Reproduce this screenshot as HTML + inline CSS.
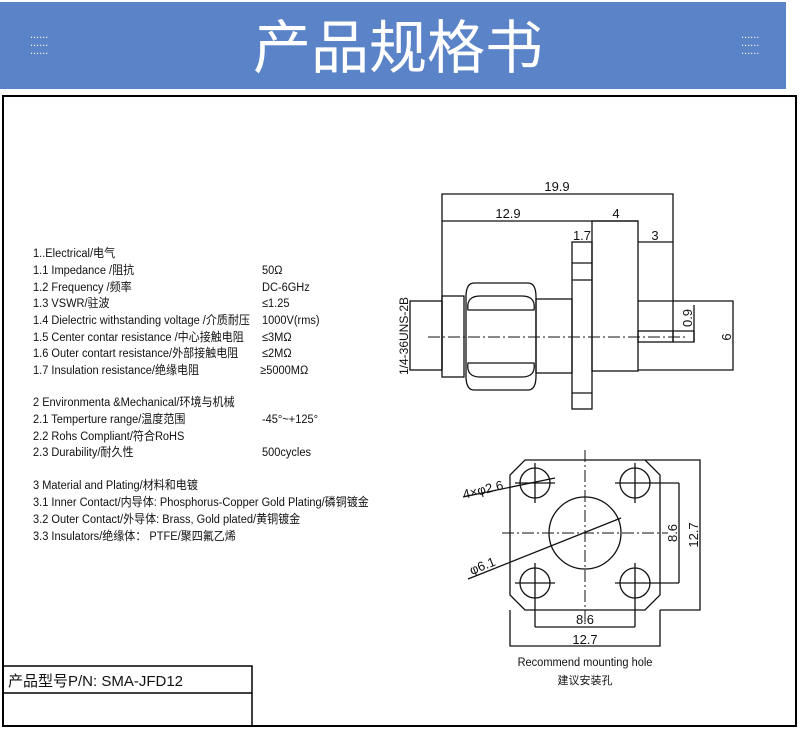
<!DOCTYPE html>
<html><head><meta charset="utf-8"><style>
html,body{margin:0;padding:0;background:#fff;}
svg{display:block;}
.t{font-family:"Liberation Sans","Noto Sans CJK SC",sans-serif;font-size:12px;fill:#111;}
.d{font-family:"Liberation Sans",sans-serif;font-size:13px;fill:#111;}
</style></head><body>
<svg width="800" height="732" viewBox="0 0 800 732" xmlns="http://www.w3.org/2000/svg">
<rect x="0" y="2" width="786" height="87" fill="#5b83c7"/>
<text x="398" y="68" text-anchor="middle" font-family="'Noto Sans CJK SC',sans-serif" font-size="58" fill="#fff">产品规格书</text>
<g fill="#fff" font-size="11" font-family="Liberation Sans">
<text x="30" y="38">......</text>
<text x="30" y="46">......</text>
<text x="30" y="54">......</text>
<text x="741" y="38">......</text>
<text x="741" y="46">......</text>
<text x="741" y="54">......</text>
</g>
<rect x="3" y="96" width="793" height="630" fill="none" stroke="#000" stroke-width="2"/>
<rect x="3" y="666" width="249" height="60" fill="none" stroke="#000" stroke-width="1.5"/>
<line x1="3" y1="693" x2="252" y2="693" stroke="#000" stroke-width="1.5"/>
<text x="8" y="686" font-family="'Liberation Sans','Noto Sans CJK SC',sans-serif" font-size="15" fill="#111">产品型号P/N:  SMA-JFD12</text>

<g class="t" transform="translate(33,0) scale(0.92,1)">
<text y="257">1..Electrical/电气</text>
<text y="274">1.1 Impedance  /阻抗</text>
<text y="291">1.2 Frequency /频率</text>
<text y="307">1.3 VSWR/驻波</text>
<text y="324">1.4 Dielectric withstanding voltage /介质耐压</text>
<text y="341">1.5 Center contar resistance /中心接触电阻</text>
<text y="357">1.6 Outer contart resistance/外部接触电阻</text>
<text y="374">1.7 Insulation  resistance/绝缘电阻</text>
<text y="406">2 Environmenta &amp;Mechanical/环境与机械</text>
<text y="423">2.1 Temperture range/温度范围</text>
<text y="440">2.2 Rohs Compliant/符合RoHS</text>
<text y="456">2.3 Durability/耐久性</text>
<text y="489">3 Material and Plating/材料和电镀</text>
<text y="506">3.1 Inner Contact/内导体:  Phosphorus-Copper Gold Plating/磷铜镀金</text>
<text y="523">3.2 Outer Contact/外导体: Brass, Gold plated/黄铜镀金</text>
<text y="540">3.3 Insulators/绝缘体： PTFE/聚四氟乙烯</text>
</g>
<g class="t" transform="translate(262,0) scale(0.92,1)">
<text y="274">50Ω</text>
<text y="291">DC-6GHz</text>
<text y="307">≤1.25</text>
<text y="324">1000V(rms)</text>
<text y="341">≤3MΩ</text>
<text y="357">≤2MΩ</text>
<text y="374" x="-2">≥5000MΩ</text>
<text y="423">-45°~+125°</text>
<text y="456">500cycles</text>
</g>

<!-- side view -->
<g fill="none" stroke="#111" stroke-width="1.3">
<polyline points="442,370 442,194 673,194 673,342"/>
<polyline points="442,221 638,221"/>
<polyline points="638,242 673,242"/>
<rect x="410" y="301" width="32" height="69"/>
<rect x="442" y="296" width="22" height="81"/>
<path d="M474,283 H528 Q536,283 536,297 V376 Q536,390 528,390 H474 Q466,390 466,376 V297 Q466,283 474,283 Z"/>
<path d="M468,310 Q466,296 480,296 H522 Q536,296 534,310 Z"/>
<path d="M468,363 Q466,377 480,377 H522 Q536,377 534,363 Z"/>
<rect x="536" y="299" width="36" height="74"/>
<rect x="572" y="242" width="20" height="167"/>
<line x1="572" y1="263" x2="592" y2="263"/><line x1="572" y1="280" x2="592" y2="280"/><line x1="572" y1="393" x2="592" y2="393"/>
<rect x="592" y="221" width="46" height="150"/>
<polyline points="638,301 733,301 733,370 638,370"/>
<rect x="638" y="331" width="35" height="11"/>
<polyline points="673,331 694,331 694,342 673,342"/>
<line x1="694" y1="305" x2="694" y2="342"/>
</g>
<line x1="428" y1="337" x2="685" y2="337" stroke="#111" stroke-width="1" stroke-dasharray="12,3,2,3"/>
<g class="d">
<text x="557" y="191" text-anchor="middle">19.9</text>
<text x="508" y="218" text-anchor="middle">12.9</text>
<text x="616" y="218" text-anchor="middle">4</text>
<text x="582" y="240" text-anchor="middle">1.7</text>
<text x="655" y="240" text-anchor="middle">3</text>
<text transform="translate(692,318) rotate(-90)" text-anchor="middle">0.9</text>
<text transform="translate(731,337) rotate(-90)" text-anchor="middle">6</text>
<text transform="translate(408,336) rotate(-90)" text-anchor="middle" font-size="12">1/4-36UNS-2B</text>
</g>

<!-- bottom view -->
<g fill="none" stroke="#111" stroke-width="1.3">
<path d="M525,460 H645 L660,475 V595 L645,610 H525 L510,595 V475 Z"/>
<circle cx="535" cy="483" r="15"/><circle cx="635" cy="483" r="15"/>
<circle cx="535" cy="583" r="15"/><circle cx="635" cy="583" r="15"/>
<circle cx="585" cy="533" r="36"/>
<line x1="515" y1="483" x2="555" y2="483"/><line x1="535" y1="463" x2="535" y2="503"/>
<line x1="615" y1="483" x2="679" y2="483"/><line x1="635" y1="463" x2="635" y2="503"/>
<line x1="515" y1="583" x2="555" y2="583"/><line x1="535" y1="563" x2="535" y2="627"/>
<line x1="615" y1="583" x2="679" y2="583"/><line x1="635" y1="563" x2="635" y2="627"/>
<line x1="679" y1="483" x2="679" y2="583"/>
<polyline points="645,460 700,460 700,610 660,610"/>
<polyline points="535,627 635,627"/>
<polyline points="510,610 510,646 660,646 660,610"/>
<line x1="463" y1="497" x2="555" y2="478"/>
<line x1="468" y1="579" x2="621" y2="518"/>
</g>
<line x1="585" y1="450" x2="585" y2="625" stroke="#111" stroke-width="1" stroke-dasharray="12,3,2,3"/>
<line x1="502" y1="533" x2="668" y2="533" stroke="#111" stroke-width="1" stroke-dasharray="12,3,2,3"/>
<g class="d">
<text transform="translate(484,494) rotate(-14)" text-anchor="middle">4×φ2.6</text>
<text transform="translate(484,570) rotate(-22)" text-anchor="middle">φ6.1</text>
<text transform="translate(677,533) rotate(-90)" text-anchor="middle">8.6</text>
<text transform="translate(698,535) rotate(-90)" text-anchor="middle">12.7</text>
<text x="585" y="624" text-anchor="middle">8.6</text>
<text x="585" y="644" text-anchor="middle">12.7</text>
</g>
<g class="t" text-anchor="middle">
<text x="585" y="666" transform="translate(46.8,0) scale(0.92,1)">Recommend mounting hole</text>
<text x="585" y="684" font-size="11">建议安装孔</text>
</g>
</svg>
</body></html>
